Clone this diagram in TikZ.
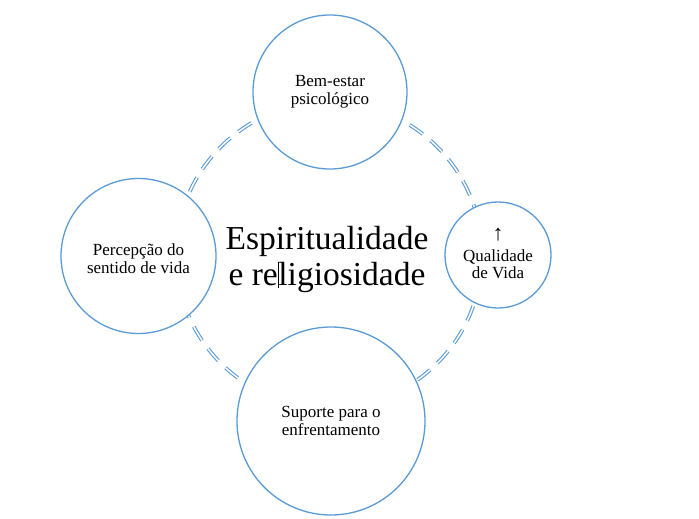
\documentclass[tikz,border=0pt]{standalone}
\usepackage{fontspec}
\setmainfont{Liberation Serif}
\definecolor{ringblue}{HTML}{5B9BD5}
\begin{document}
\begin{tikzpicture}[x=1pt,y=-1pt,
  bubble/.style={circle,draw=ringblue,line width=1.3pt,fill=white,inner sep=0pt,align=center,font=\fontsize{17}{18}\selectfont},
  ring/.style={draw=ringblue,line width=1.1pt,double=white,double distance=1.5pt,dash pattern=on 16pt off 10pt}]
\useasboundingbox (0,0) rectangle (699,519);
\coordinate (c) at (329,255);
\draw[ring] (c) circle[radius=153];
\node[bubble,minimum size=154pt] (top) at (330,92) {Bem-estar\\psicológico};
\node[bubble,minimum size=155pt] (left) at (138.5,256) {};
\node[align=center,font=\fontsize{17}{18}\selectfont] (lefttext) at (left.center) [yshift=-3pt] {Percepção do\\sentido de vida};
\node[bubble,minimum size=106pt] (right) at (498,255) {};
\node[align=center,font=\fontsize{17}{17}\selectfont] (righttext) at (right.center) [yshift=-9pt] {Qualidade\\de Vida};
\node[inner sep=0pt,text depth=0pt,font=\fontsize{22}{22}\selectfont] (arrow) at (498,234) {↑};
\node[bubble,minimum size=188pt] (bottom) at (331,421) {Suporte para o\\enfrentamento};
\node[align=center,font=\fontsize{33.5}{36}\selectfont] (mid) at (327,259) {Espiritualidade\\e re\rule[-3pt]{0.6pt}{26pt}ligiosidade};
\end{tikzpicture}
\end{document}
